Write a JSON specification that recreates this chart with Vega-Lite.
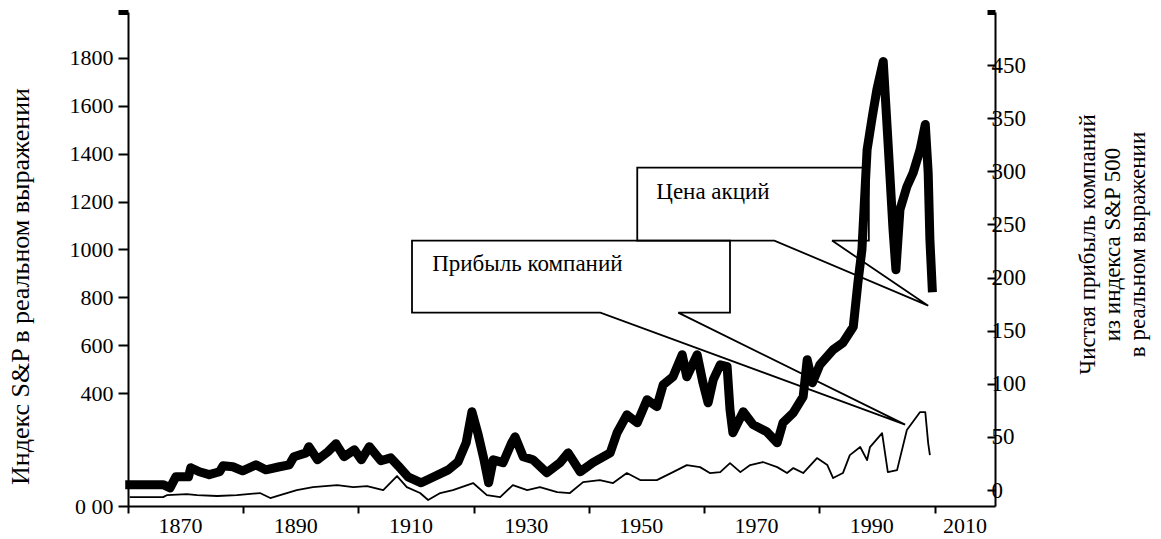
{
  "$schema": "https://vega.github.io/schema/vega-lite/v6.json",
  "width": 867,
  "height": 494,
  "autosize": "none",
  "padding": {"left": 128, "top": 12, "right": 166, "bottom": 33},
  "background": "white",
  "config": {
    "view": {"stroke": null},
    "font": "'Liberation Serif', 'Times New Roman', serif",
    "axis": {
      "grid": false,
      "domainColor": "black",
      "domainWidth": 2,
      "tickColor": "black",
      "tickWidth": 2,
      "labelFont": "'Liberation Serif', 'Times New Roman', serif",
      "labelFontSize": 22,
      "labelColor": "black",
      "titleFont": "'Liberation Serif', 'Times New Roman', serif",
      "titleFontSize": 26,
      "titleFontWeight": "normal",
      "titleColor": "black",
      "labelOverlap": false
    }
  },
  "datasets": {
    "price": [
      {"year": 1870.3, "value": 17}, {"year": 1876.1, "value": 17}, {"year": 1877.3, "value": 4},
      {"year": 1878.3, "value": 50}, {"year": 1880.5, "value": 50}, {"year": 1880.9, "value": 88},
      {"year": 1882.4, "value": 71}, {"year": 1884.1, "value": 59}, {"year": 1885.9, "value": 71},
      {"year": 1886.5, "value": 96}, {"year": 1888.2, "value": 92}, {"year": 1889.9, "value": 75},
      {"year": 1892.2, "value": 100}, {"year": 1893.9, "value": 79}, {"year": 1896.3, "value": 92},
      {"year": 1898.0, "value": 100}, {"year": 1898.8, "value": 134}, {"year": 1900.9, "value": 150},
      {"year": 1901.4, "value": 176}, {"year": 1902.9, "value": 121}, {"year": 1904.7, "value": 155},
      {"year": 1906.1, "value": 188}, {"year": 1907.5, "value": 134}, {"year": 1909.3, "value": 163},
      {"year": 1910.5, "value": 121}, {"year": 1911.9, "value": 176}, {"year": 1913.9, "value": 117},
      {"year": 1915.6, "value": 129}, {"year": 1916.9, "value": 96}, {"year": 1918.6, "value": 50},
      {"year": 1920.9, "value": 25}, {"year": 1923.1, "value": 50}, {"year": 1925.6, "value": 79},
      {"year": 1927.3, "value": 113}, {"year": 1928.7, "value": 192}, {"year": 1929.7, "value": 322},
      {"year": 1930.8, "value": 225}, {"year": 1931.8, "value": 121}, {"year": 1932.6, "value": 25},
      {"year": 1933.4, "value": 121}, {"year": 1935.1, "value": 109}, {"year": 1936.6, "value": 192},
      {"year": 1937.2, "value": 217}, {"year": 1938.6, "value": 134}, {"year": 1940.3, "value": 121},
      {"year": 1942.7, "value": 67}, {"year": 1945.0, "value": 109}, {"year": 1946.4, "value": 150},
      {"year": 1948.5, "value": 71}, {"year": 1950.7, "value": 109}, {"year": 1953.7, "value": 150},
      {"year": 1954.9, "value": 234}, {"year": 1956.6, "value": 309}, {"year": 1958.4, "value": 276},
      {"year": 1960.1, "value": 372}, {"year": 1961.8, "value": 343}, {"year": 1962.9, "value": 435},
      {"year": 1964.6, "value": 468}, {"year": 1966.2, "value": 560}, {"year": 1967.0, "value": 468},
      {"year": 1968.8, "value": 560}, {"year": 1969.8, "value": 443}, {"year": 1970.7, "value": 359},
      {"year": 1971.6, "value": 456}, {"year": 1972.8, "value": 518}, {"year": 1974.0, "value": 510},
      {"year": 1974.5, "value": 330}, {"year": 1975.0, "value": 234}, {"year": 1976.8, "value": 322},
      {"year": 1978.5, "value": 268}, {"year": 1980.9, "value": 238}, {"year": 1982.7, "value": 192},
      {"year": 1983.7, "value": 276}, {"year": 1985.5, "value": 318}, {"year": 1987.2, "value": 385},
      {"year": 1987.9, "value": 539}, {"year": 1988.8, "value": 443}, {"year": 1990.1, "value": 518},
      {"year": 1992.4, "value": 581}, {"year": 1994.1, "value": 610}, {"year": 1995.9, "value": 677},
      {"year": 1996.7, "value": 861}, {"year": 1997.4, "value": 999}, {"year": 1998.3, "value": 1417},
      {"year": 1999.2, "value": 1555}, {"year": 2000.0, "value": 1668}, {"year": 2001.1, "value": 1785},
      {"year": 2001.9, "value": 1459}, {"year": 2002.8, "value": 1083}, {"year": 2003.3, "value": 915},
      {"year": 2004.0, "value": 1166}, {"year": 2005.2, "value": 1262}, {"year": 2006.3, "value": 1321},
      {"year": 2007.5, "value": 1417}, {"year": 2008.4, "value": 1522}, {"year": 2008.9, "value": 1321},
      {"year": 2009.2, "value": 1041}, {"year": 2009.6, "value": 840}
    ],
    "earnings": [
      {"year": 1870.3, "earnings": -6.6}, {"year": 1876.1, "earnings": -6.6}, {"year": 1876.8, "earnings": -4.7},
      {"year": 1880.2, "earnings": -3.8}, {"year": 1882.0, "earnings": -4.7}, {"year": 1885.5, "earnings": -5.6},
      {"year": 1888.9, "earnings": -4.7}, {"year": 1892.9, "earnings": -2.8}, {"year": 1894.7, "earnings": -7.5},
      {"year": 1896.4, "earnings": -4.7}, {"year": 1899.3, "earnings": 0}, {"year": 1902.1, "earnings": 2.8},
      {"year": 1906.3, "earnings": 4.7}, {"year": 1909.1, "earnings": 2.8}, {"year": 1911.5, "earnings": 3.8},
      {"year": 1914.3, "earnings": 0}, {"year": 1915.5, "earnings": 6.6}, {"year": 1916.7, "earnings": 13.2},
      {"year": 1918.4, "earnings": 2.8}, {"year": 1920.7, "earnings": -2.8}, {"year": 1922.1, "earnings": -9.4},
      {"year": 1924.2, "earnings": -2.8}, {"year": 1926.4, "earnings": 0}, {"year": 1929.9, "earnings": 6.6},
      {"year": 1932.3, "earnings": -4.7}, {"year": 1934.6, "earnings": -6.6}, {"year": 1936.8, "earnings": 4.7},
      {"year": 1939.3, "earnings": 0}, {"year": 1941.5, "earnings": 2.8}, {"year": 1944.5, "earnings": -1.9},
      {"year": 1946.7, "earnings": -2.8}, {"year": 1949.0, "earnings": 7.5}, {"year": 1951.9, "earnings": 9.4},
      {"year": 1954.2, "earnings": 6.6}, {"year": 1956.6, "earnings": 16}, {"year": 1958.9, "earnings": 9.4},
      {"year": 1961.8, "earnings": 9.4}, {"year": 1964.6, "earnings": 16.9}, {"year": 1967.0, "earnings": 23.5},
      {"year": 1969.3, "earnings": 21.6}, {"year": 1971.0, "earnings": 16}, {"year": 1972.8, "earnings": 16.9},
      {"year": 1974.5, "earnings": 25.4}, {"year": 1976.3, "earnings": 16.9}, {"year": 1978.0, "earnings": 23.5},
      {"year": 1980.2, "earnings": 26.4}, {"year": 1982.7, "earnings": 21.6}, {"year": 1984.4, "earnings": 16},
      {"year": 1985.5, "earnings": 20.7}, {"year": 1987.2, "earnings": 16}, {"year": 1989.6, "earnings": 30.1},
      {"year": 1991.4, "earnings": 23.5}, {"year": 1992.4, "earnings": 11.3}, {"year": 1994.1, "earnings": 16},
      {"year": 1995.3, "earnings": 32.9}, {"year": 1997.1, "earnings": 40.5}, {"year": 1998.3, "earnings": 28.2},
      {"year": 1998.8, "earnings": 40.5}, {"year": 2000.9, "earnings": 53.6}, {"year": 2001.9, "earnings": 16.9},
      {"year": 2003.5, "earnings": 18.8}, {"year": 2005.2, "earnings": 56.5}, {"year": 2007.5, "earnings": 73.4},
      {"year": 2008.4, "earnings": 73.4}, {"year": 2008.9, "earnings": 44.2}, {"year": 2009.2, "earnings": 32.9}
    ],
    "callouts": [
      {"id": "price", "ord": 1, "year": 1992.2, "value": 1037},
      {"id": "price", "ord": 2, "year": 1998.6, "value": 1037},
      {"id": "price", "ord": 3, "year": 1998.6, "value": 1342},
      {"id": "price", "ord": 4, "year": 1958.4, "value": 1342},
      {"id": "price", "ord": 5, "year": 1958.4, "value": 1037},
      {"id": "price", "ord": 6, "year": 1982.2, "value": 1037},
      {"id": "price", "ord": 7, "year": 2008.9, "value": 765},
      {"id": "price", "ord": 8, "year": 1992.2, "value": 1037},
      {"id": "earn", "ord": 1, "year": 1965.5, "value": 736},
      {"id": "earn", "ord": 2, "year": 1974.5, "value": 736},
      {"id": "earn", "ord": 3, "year": 1974.5, "value": 1037},
      {"id": "earn", "ord": 4, "year": 1919.3, "value": 1037},
      {"id": "earn", "ord": 5, "year": 1919.3, "value": 736},
      {"id": "earn", "ord": 6, "year": 1952.0, "value": 736},
      {"id": "earn", "ord": 7, "year": 2004.9, "value": 268},
      {"id": "earn", "ord": 8, "year": 1965.5, "value": 736}
    ],
    "labels": [
      {"text": "Цена акций", "year": 1961.7, "value": 1241},
      {"text": "Прибыль компаний", "year": 1922.8, "value": 940}
    ]
  },
  "layer": [
    {
      "layer": [
        {
          "data": {"name": "price"},
          "mark": {"type": "line", "color": "black", "strokeWidth": 9, "strokeJoin": "round", "strokeCap": "square"},
          "encoding": {
            "x": {
              "field": "year", "type": "quantitative",
              "scale": {"domain": [1870, 2020.5], "nice": false, "zero": false},
              "axis": {
                "orient": "bottom",
                "values": [1870, 1890, 1910, 1930, 1950, 1970, 1990, 2010],
                "format": "d",
                "tickSize": 7,
                "labelPadding": 2,
                "labelFlush": false,
                "labelOffset": {"expr": "datum.value == 2010 ? 30 : 52"},
                "title": null
              }
            },
            "y": {
              "field": "value", "type": "quantitative",
              "scale": {"domain": [-72, 1992], "nice": false, "zero": false},
              "axis": {
                "orient": "left",
                "values": [-72, 400, 600, 800, 1000, 1200, 1400, 1600, 1800, 1992],
                "format": "d",
                "labelExpr": "datum.value < 0 ? '0 00' : (datum.value > 1900 ? '' : datum.label)",
                "tickSize": 10,
                "labelPadding": 5,
                "tickWidth": {"expr": "datum.value > 1900 ? 5 : 2"},
                "title": "Индекс S&P в реальном выражении",
                "titleAngle": 270,
                "titleAlign": "center",
                "titleBaseline": "middle",
                "titleX": -108,
                "titleY": 274
              }
            }
          }
        },
        {
          "data": {"name": "callouts"},
          "mark": {"type": "line", "color": "black", "strokeWidth": 1.8, "strokeJoin": "miter"},
          "encoding": {
            "x": {"field": "year", "type": "quantitative"},
            "y": {"field": "value", "type": "quantitative"},
            "detail": {"field": "id"},
            "order": {"field": "ord", "type": "quantitative"}
          }
        },
        {
          "data": {"name": "labels"},
          "mark": {"type": "text", "align": "left", "baseline": "middle", "font": "'Liberation Serif', 'Times New Roman', serif", "fontSize": 23, "color": "black"},
          "encoding": {
            "x": {"field": "year", "type": "quantitative"},
            "y": {"field": "value", "type": "quantitative"},
            "text": {"field": "text"}
          }
        }
      ]
    },
    {
      "data": {"name": "earnings"},
      "mark": {"type": "line", "color": "black", "strokeWidth": 1.8, "strokeJoin": "round"},
      "encoding": {
        "x": {"field": "year", "type": "quantitative"},
        "y": {
          "field": "earnings", "type": "quantitative",
          "scale": {"domain": [-15, 450], "nice": false, "zero": false},
          "axis": {
            "orient": "right",
            "values": [0, 50, 100, 150, 200, 250, 300, 350, 400, 450],
            "format": "d",
            "labelExpr": "datum.value == 400 ? '450' : (datum.value > 420 ? '' : datum.label)",
            "tickSize": -8,
            "labelPadding": 4,
            "labelFontSize": 23,
            "tickWidth": {"expr": "datum.value > 420 ? 5 : 2"},
            "title": ["Чистая прибыль компаний", "из индекса S&P 500", "в реальном выражении"],
            "titleFontSize": 23,
            "titleLineHeight": 25,
            "titleAngle": 270,
            "titleAlign": "center",
            "titleBaseline": "middle",
            "titleX": 92,
            "titleY": 232
          }
        }
      }
    }
  ],
  "resolve": {"scale": {"y": "independent"}}
}
